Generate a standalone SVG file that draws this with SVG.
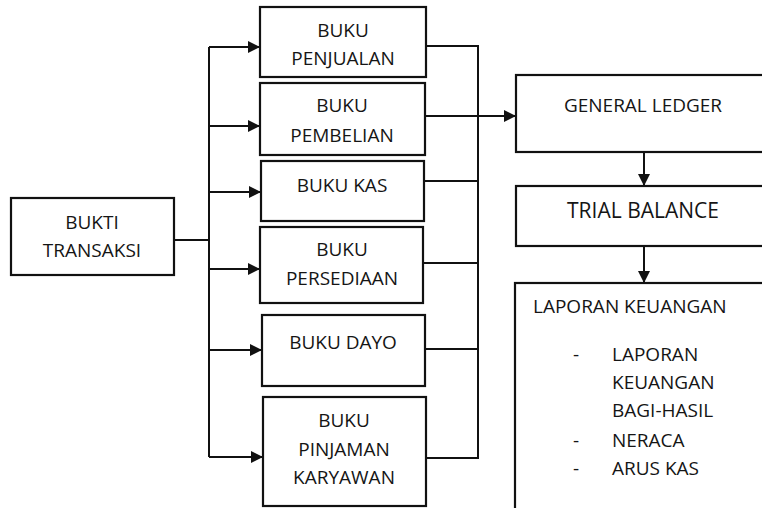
<svg xmlns="http://www.w3.org/2000/svg" width="762" height="508" viewBox="0 0 762 508">
  <style>
    .box { fill: #fff; stroke: #111; stroke-width: 2.2; }
    .wire { fill: none; stroke: #111; stroke-width: 2; }
    text { font-family: "Open Sans", "Noto Sans", "Liberation Sans", sans-serif; font-size: 19px; fill: #151515; }
    .c { text-anchor: middle; }
    .big { font-size: 21px; }
  </style>
  <defs>
    <marker id="arrow" viewBox="0 0 10 10" refX="10" refY="5" markerWidth="12" markerHeight="12" markerUnits="userSpaceOnUse" orient="auto">
      <path d="M0,0 L10,5 L0,10 Z" fill="#111"/>
    </marker>
  </defs>
  <rect width="762" height="508" fill="#fff"/>

  <!-- connectors -->
  <g id="connectors">
    <!-- source to left bus -->
    <path class="wire" d="M174,240 H209"/>
    <path class="wire" d="M209,47 V457"/>
    <path class="wire" marker-end="url(#arrow)" d="M209,47 H260"/>
    <path class="wire" marker-end="url(#arrow)" d="M209,126 H260"/>
    <path class="wire" marker-end="url(#arrow)" d="M209,192 H261"/>
    <path class="wire" marker-end="url(#arrow)" d="M209,269 H260"/>
    <path class="wire" marker-end="url(#arrow)" d="M209,350 H262"/>
    <path class="wire" marker-end="url(#arrow)" d="M209,457 H263"/>
    <!-- books to right bus -->
    <path class="wire" d="M426,46 H478 V458 H426"/>
    <path class="wire" d="M424,181 H478"/>
    <path class="wire" d="M423,263 H478"/>
    <path class="wire" d="M425,349 H478"/>
    <!-- into general ledger -->
    <path class="wire" marker-end="url(#arrow)" d="M425,116 H516"/>
    <!-- ledger chain -->
    <path class="wire" marker-end="url(#arrow)" d="M644,152 V186"/>
    <path class="wire" marker-end="url(#arrow)" d="M644,246 V283"/>
  </g>

  <g id="bukti-transaksi">
    <rect class="box" x="11" y="198" width="163" height="77"/>
    <text class="c" x="92" y="229">BUKTI</text>
    <text class="c" x="92" y="257">TRANSAKSI</text>
  </g>

  <g id="buku-penjualan">
    <rect class="box" x="260" y="7" width="166" height="70"/>
    <text class="c" x="343" y="37">BUKU</text>
    <text class="c" x="343" y="65">PENJUALAN</text>
  </g>

  <g id="buku-pembelian">
    <rect class="box" x="260" y="83" width="165" height="72"/>
    <text class="c" x="342" y="112">BUKU</text>
    <text class="c" x="342" y="142">PEMBELIAN</text>
  </g>

  <g id="buku-kas">
    <rect class="box" x="261" y="161" width="163" height="60"/>
    <text class="c" x="342" y="192">BUKU KAS</text>
  </g>

  <g id="buku-persediaan">
    <rect class="box" x="260" y="227" width="163" height="76"/>
    <text class="c" x="342" y="256">BUKU</text>
    <text class="c" x="342" y="285">PERSEDIAAN</text>
  </g>

  <g id="buku-dayo">
    <rect class="box" x="262" y="315" width="163" height="71"/>
    <text class="c" x="343" y="349">BUKU DAYO</text>
  </g>

  <g id="buku-pinjaman-karyawan">
    <rect class="box" x="263" y="397" width="163" height="109"/>
    <text class="c" x="344" y="427">BUKU</text>
    <text class="c" x="344" y="456">PINJAMAN</text>
    <text class="c" x="344" y="484">KARYAWAN</text>
  </g>

  <g id="general-ledger">
    <rect class="box" x="516" y="75" width="270" height="77"/>
    <text class="c" x="643" y="112">GENERAL LEDGER</text>
  </g>

  <g id="trial-balance">
    <rect class="box" x="516" y="186" width="270" height="60"/>
    <text class="c big" x="643" y="218">TRIAL BALANCE</text>
  </g>

  <g id="laporan-keuangan">
    <rect class="box" x="515" y="283" width="270" height="240"/>
    <text x="533" y="313">LAPORAN KEUANGAN</text>
    <text x="573" y="361">-</text>
    <text x="612" y="361">LAPORAN</text>
    <text x="612" y="389">KEUANGAN</text>
    <text x="612" y="417">BAGI-HASIL</text>
    <text x="573" y="447">-</text>
    <text x="612" y="447">NERACA</text>
    <text x="573" y="475">-</text>
    <text x="612" y="475">ARUS KAS</text>
  </g>
</svg>
